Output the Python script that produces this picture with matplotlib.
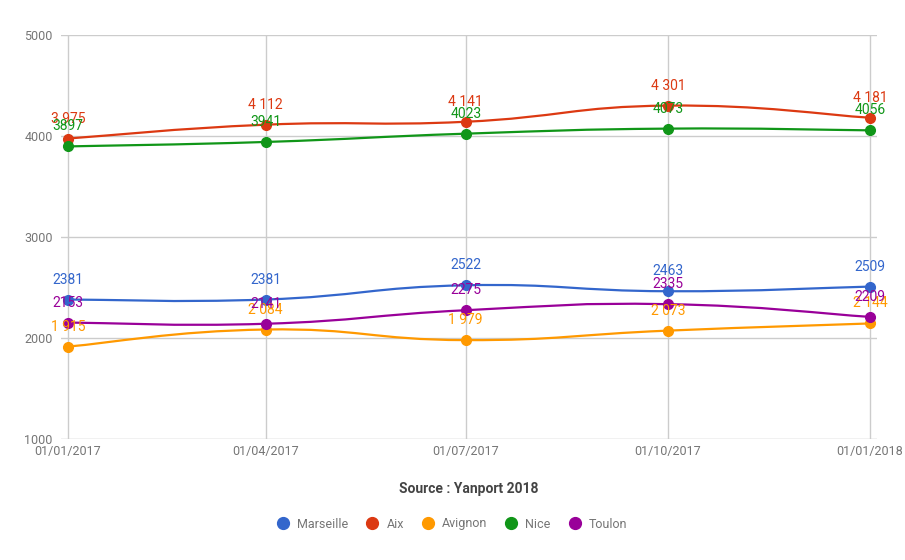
import datetime as dt
import matplotlib
matplotlib.use("Agg")
import matplotlib.pyplot as plt
import matplotlib.dates as mdates
from matplotlib.path import Path
from matplotlib.patches import PathPatch
from matplotlib.lines import Line2D

plt.rcParams['font.family'] = ['Roboto', 'DejaVu Sans']

dates = ["2017-01-01", "2017-04-01", "2017-07-01", "2017-10-01", "2018-01-01"]
series_names = ["Marseille", "Aix", "Avignon", "Nice", "Toulon"]
marseille = [2381, 2381, 2522, 2463, 2509]
aix = [3975, 4112, 4141, 4301, 4181]
avignon = [1915, 2084, 1979, 2073, 2144]
nice = [3897, 3941, 4023, 4073, 4056]
toulon = [2153, 2141, 2275, 2335, 2209]
series_values = [marseille, aix, avignon, nice, toulon]
spaced_labels = {"Aix", "Avignon"}
colors = ["#3366cc", "#dc3912", "#ff9900", "#109618", "#990099"]
yticks = [1000, 2000, 3000, 4000, 5000]
title = "Source : Yanport 2018"

xs = [mdates.date2num(dt.datetime.strptime(d, "%Y-%m-%d")) for d in dates]

W, H = 905, 560
fig = plt.figure(figsize=(W / 100, H / 100), dpi=100)
ax = fig.add_axes([61 / W, 1 - 439 / H, (877 - 61) / W, (439 - 35) / H])

span = xs[-1] - xs[0]
pad = span * 7 / 802
ax.set_xlim(xs[0] - pad, xs[-1] + pad)
ax.set_ylim(1000, 5000)

for s in ax.spines.values():
    s.set_visible(False)

for y in yticks:
    ax.axhline(y, color="#cccccc" if y != 1000 else "#bbbbbb", lw=1, zorder=0)
for x in xs:
    ax.plot([x, x], [1000, 5000], color="#cccccc", lw=1, zorder=0)

ax.set_yticks(yticks)
ax.set_yticklabels([str(v) for v in yticks])
ax.set_xticks(xs)
ax.set_xticklabels([dt.datetime.strptime(d, "%Y-%m-%d").strftime("%d/%m/%Y") for d in dates])
ax.tick_params(axis="both", length=0, labelsize=9, labelcolor="#757575")
ax.tick_params(axis="y", pad=6)
ax.tick_params(axis="x", pad=4)


def smooth_path(x, y, t=0.5):
    n = len(x)
    verts = [(x[0], y[0])]
    codes = [Path.MOVETO]
    for i in range(n - 1):
        x0, y0 = (x[i - 1], y[i - 1]) if i > 0 else (x[i], y[i])
        x1, y1 = x[i], y[i]
        x2, y2 = x[i + 1], y[i + 1]
        x3, y3 = (x[i + 2], y[i + 2]) if i + 2 < n else (x2, y2)
        c1 = (x1 + (x2 - x0) * t / 3, y1 + (y2 - y0) * t / 3)
        c2 = (x2 - (x3 - x1) * t / 3, y2 - (y3 - y1) * t / 3)
        verts += [c1, c2, (x2, y2)]
        codes += [Path.CURVE4] * 3
    return Path(verts, codes)


for name, vals, c in zip(series_names, series_values, colors):
    p = smooth_path(xs, vals, t=0.7)
    ax.add_patch(PathPatch(p, facecolor="none", edgecolor=c, lw=1.6, zorder=2))
    ax.plot(xs, vals, "o", color=c, markersize=7, zorder=3, clip_on=False)

for name, vals, c in zip(series_names, series_values, colors):
    for x, v in zip(xs, vals):
        lab = f"{v:,}".replace(",", " ") if name in spaced_labels else str(v)
        ax.annotate(lab, (x, v), xytext=(0, 11.5), textcoords="offset points",
                    ha="center", va="baseline", color=c, fontsize=10, zorder=4,
                    annotation_clip=False)

fig.text(469 / W, 1 - 489 / H, title, ha="center", va="center",
         fontsize=10, fontweight="bold", color="#444444")

handles = [Line2D([], [], marker="o", ls="none", color=c, markersize=8.5) for c in colors]
leg = fig.legend(handles, series_names, loc="center", bbox_to_anchor=(452 / W, 1 - 524 / H),
                 ncol=5, frameon=False, fontsize=9, handletextpad=0.62, columnspacing=1.42,
                 handlelength=1.0)
for t in leg.get_texts():
    t.set_color("#757575")

fig.savefig("out.png", dpi=100)
